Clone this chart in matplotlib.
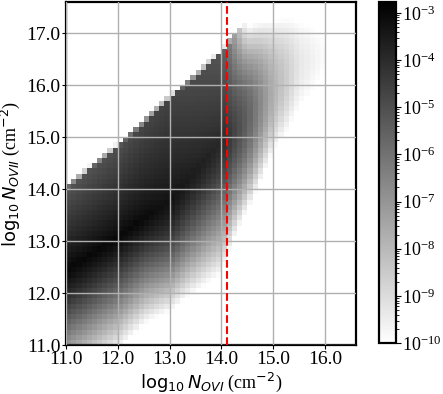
import numpy as np
import matplotlib
matplotlib.use('Agg')
import matplotlib.pyplot as plt
from matplotlib.colors import LogNorm

plt.rcParams['font.family'] = 'serif'
plt.rcParams['font.serif'] = ['Liberation Serif', 'DejaVu Serif']
plt.rcParams['mathtext.fontset'] = 'dejavusans'
plt.rcParams['font.size'] = 14

#----bins (log10 N, 0.1 dex)----
x_edges = np.linspace(11.0, 16.6, 57)
y_edges = np.linspace(11.0, 17.6, 67)

#----column profile----
knot_x = [11.0, 12.0, 12.5, 13.0, 14.0, 14.5, 15.0, 15.5, 16.0, 16.6]
ridge_y = [12.45, 13.1, 13.45, 13.8, 14.95, 15.35, 15.9, 16.4, 16.6, 16.9]
peak_log = [-3.0, -3.0, -3.05, -3.3, -3.9, -5.5, -7.8, -9.3, -9.9, -10.8]
up_k = [1.45, 1.3, 1.05, 0.8, 0.85, 1.4, 1.2, 1.0, 1.0, 1.0]
up_p = [0.9, 0.8, 0.8, 0.8, 0.8, 2.0, 2.0, 2.0, 2.0, 2.0]
lo_k = [2.5, 2.5, 2.7, 1.95, 1.45, 1.45, 1.6, 1.0, 1.0, 1.0]
lo_p = [1.3, 1.3, 1.3, 1.6, 1.5, 2.0, 2.0, 2.0, 2.0, 2.0]

#----sharp upper edge of the distribution----
top_x = [11.0, 12.0, 13.0, 13.5, 14.0, 14.2, 14.4, 14.6]
top_y = [14.05, 14.85, 15.77, 16.2, 16.65, 16.95, 17.15, 19.0]

vline_x = 14.1

#----build the histogram----
xc = 0.5 * (x_edges[1:] + x_edges[:-1])
yc = 0.5 * (y_edges[1:] + y_edges[:-1])
XC, YC = np.meshgrid(xc, yc)

R = np.interp(XC, knot_x, ridge_y)
P = np.interp(XC, knot_x, peak_log)
UK = np.interp(XC, knot_x, up_k)
UP = np.interp(XC, knot_x, up_p)
LK = np.interp(XC, knot_x, lo_k)
LP = np.interp(XC, knot_x, lo_p)
T = np.interp(XC, top_x, top_y)

d = YC - R
logd = np.where(d >= 0, P - UK * np.abs(d)**UP, P - LK * np.abs(d)**LP)
frac = (T - (YC - 0.05)) / 0.1
logd = np.where(frac < 1, logd - 5 * (1 - frac), logd)
logd[frac <= 0] = np.nan
logd[logd < -10] = np.nan
dens = np.ma.masked_invalid(10**logd)

#----plot----
fig = plt.figure(figsize=(4.43, 3.94), dpi=100)
ax = fig.add_axes([0.149, 0.124, 0.655, 0.871])

mesh = ax.pcolormesh(x_edges, y_edges, dens, cmap='gray_r',
                     norm=LogNorm(vmin=1e-10, vmax=1.7e-3))
ax.axvline(vline_x, color='red', linestyle='--', linewidth=1.5, zorder=5)

ax.set_xlim(11.0, 16.6)
ax.set_ylim(11.0, 17.6)
ax.set_xticks([11, 12, 13, 14, 15, 16])
ax.set_yticks([11, 12, 13, 14, 15, 16, 17])
ax.xaxis.set_major_formatter('{x:.1f}')
ax.yaxis.set_major_formatter('{x:.1f}')
ax.tick_params(length=3, pad=1)
ax.grid(True, color='#b0b0b0', linewidth=1)
ax.set_axisbelow(False)
for s in ax.spines.values():
    s.set_linewidth(1.6)

ax.set_xlabel(r'$\log_{10}N_{OVI}$ (cm$^{-2}$)', fontsize=13, labelpad=2)
ax.set_ylabel(r'$\log_{10}N_{OVII}$ (cm$^{-2}$)', fontsize=13, labelpad=3)

cax = fig.add_axes([0.855, 0.129, 0.039, 0.866])
cb = fig.colorbar(mesh, cax=cax)
cb.outline.set_linewidth(1.6)
cax.tick_params(labelsize=13, pad=1)

fig.savefig('out.png', dpi=100)
